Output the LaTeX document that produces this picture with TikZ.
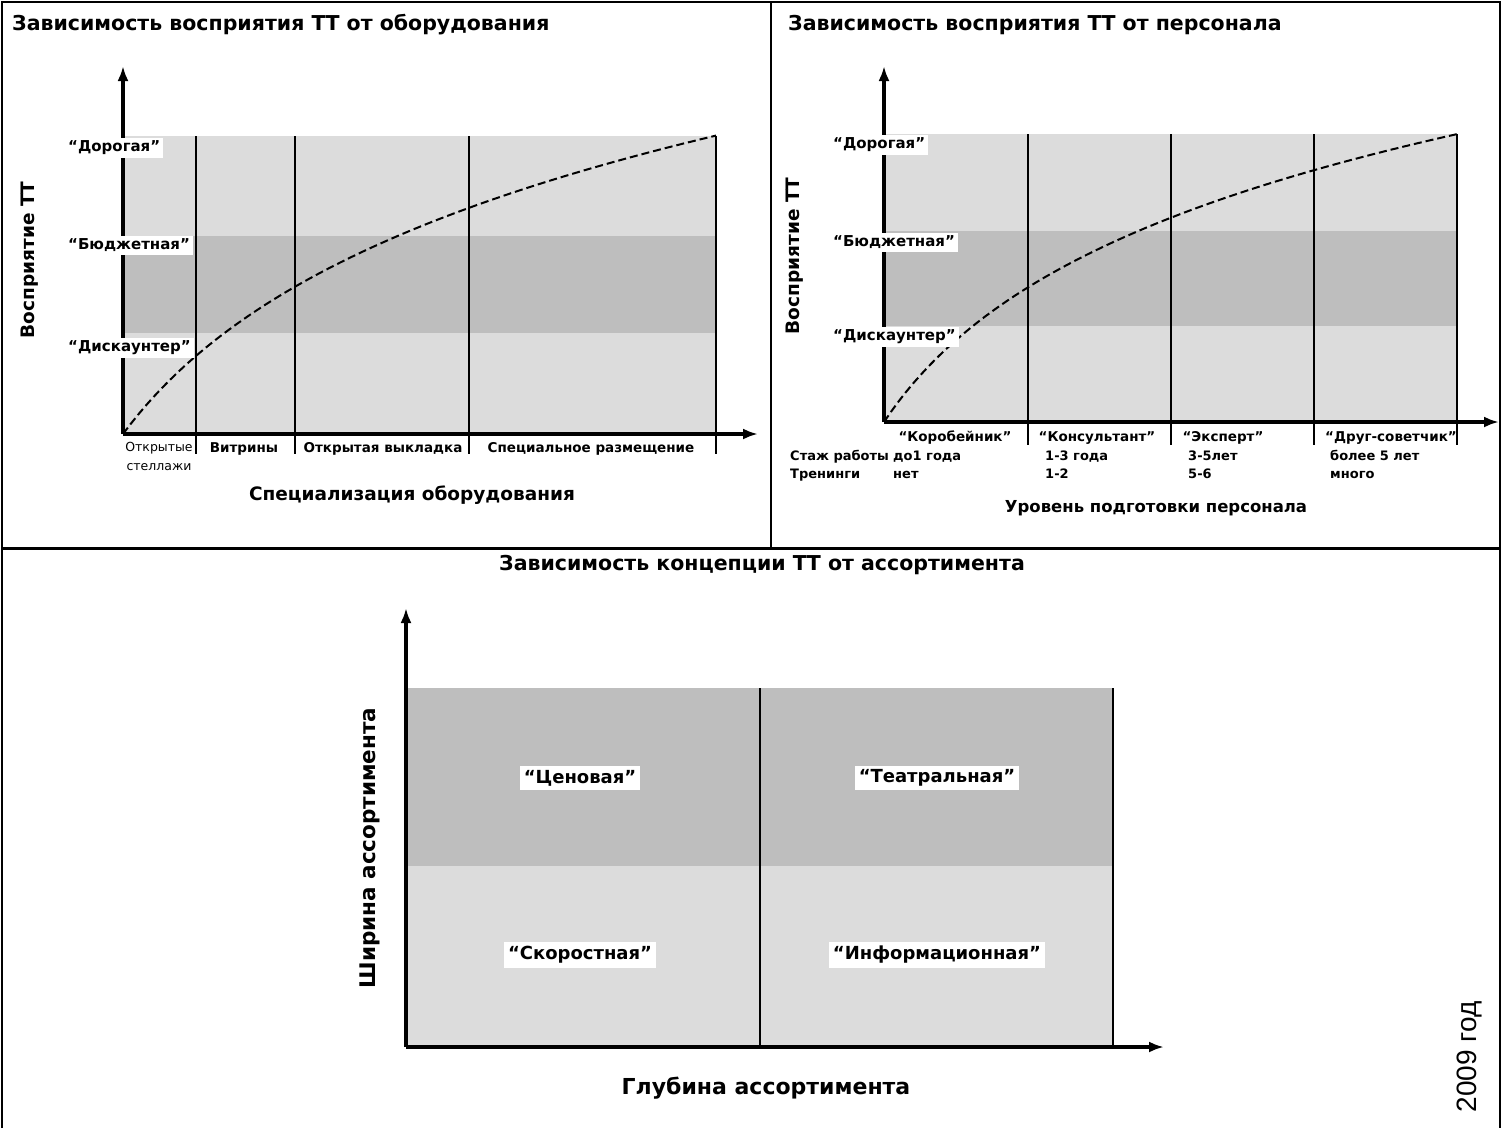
\documentclass[tikz,border=0pt]{standalone}
\usepackage{fontspec}
\setmainfont{DejaVu Sans}
\newfontfamily\yearfont{Liberation Sans}
\usetikzlibrary{arrows.meta,positioning,calc}
\definecolor{lightzone}{HTML}{DCDCDC}
\definecolor{darkzone}{HTML}{BEBEBE}

\begin{document}
\begin{tikzpicture}[x=1pt, y=-1pt,
  every node/.style={inner sep=0pt, font=\bfseries\fontsize{13.5}{16}\selectfont},
  heading/.style={anchor=west, font=\bfseries\fontsize{20.5}{24}\selectfont},
  axistitle/.style={font=\bfseries\fontsize{18.5}{22}\selectfont},
  level/.style={anchor=west, fill=white, inner sep=3pt, font=\bfseries\fontsize{15}{18}\selectfont},
  zone/.style={fill=white, inner sep=4pt, font=\bfseries\fontsize{18}{22}\selectfont},
  tick/.style={anchor=base},
  rowtext/.style={anchor=base west, font=\bfseries\fontsize{13}{16}\selectfont},
  frame/.style={line width=2pt},
  axis/.style={line width=3.5pt, -{Latex[length=15pt,width=11pt]}},
  divider/.style={line width=1.7pt},
  trend/.style={line width=2pt, dash pattern=on 8pt off 4pt}]
\useasboundingbox (0,0) rectangle (1502,1128);
\fill[white] (0,0) rectangle (1502,1128);

\draw[frame] (2,1128) -- (2,2) -- (1500,2) -- (1500,1128);
\draw[frame] (771,2) -- (771,548);
\draw[line width=3pt] (2,548) -- (1500,548);

\node[heading] (title1) at (12,25) {Зависимость восприятия ТТ от оборудования};
\node[heading] (title2) at (788,25) {Зависимость восприятия ТТ от персонала};
\node[heading, anchor=center] (title3) at (762,565) {Зависимость концепции ТТ от ассортимента};

\fill[lightzone] (123,136) rectangle (716,434);
\fill[darkzone] (123,236) rectangle (716,333);
\foreach \x in {196,295,469,716}
  \draw[divider] (\x,136) -- (\x,454);
\draw[trend] plot[domain=0:593, samples=80] ({123+\x}, {434-172*ln(1+\x/127)});
\coordinate (o1) at (123,434);
\coordinate (ytip1) at (123,66);
\coordinate (xtip1) at (758,434);
\draw[axis] (o1) -- (ytip1);
\draw[axis] (o1) -- (xtip1);
\node[level] (exp1) at (65,148) {“Дорогая”};
\node[level] (bud1) at (65,245) {“Бюджетная”};
\node[level] (disc1) at (65,348) {“Дискаунтер”};
\node[axistitle, rotate=90] (ylab1) at (30,260) {Восприятие ТТ};
\node[font=\mdseries\fontsize{12.5}{19}\selectfont, align=center] (shelf) at (159,456) {Открытые\\стеллажи};
\node[tick] (vitr) at (244,452) {Витрины};
\node[tick] (open) at (383,452) {Открытая выкладка};
\node[tick] (spec) at (591,452) {Специальное размещение};
\node[axistitle] (xlab1) at (412,495) {Специализация оборудования};

\fill[lightzone] (884,134) rectangle (1457,422);
\fill[darkzone] (884,231) rectangle (1457,326);
\foreach \x in {1028,1171,1314,1457}
  \draw[divider] (\x,134) -- (\x,445);
\draw[trend] plot[domain=0:573, samples=80] ({884+\x}, {422-151*ln(1+\x/100)});
\coordinate (o2) at (884,422);
\coordinate (ytip2) at (884,66);
\coordinate (xtip2) at (1499,422);
\draw[axis] (o2) -- (ytip2);
\draw[axis] (o2) -- (xtip2);
\node[level] (exp2) at (830,145) {“Дорогая”};
\node[level] (bud2) at (830,242) {“Бюджетная”};
\node[level] (disc2) at (830,337) {“Дискаунтер”};
\node[axistitle, rotate=90] (ylab2) at (795,256) {Восприятие ТТ};
\node[tick] (peddler) at (955,441) {“Коробейник”};
\node[tick] (consult) at (1097,441) {“Консультант”};
\node[tick] (expert) at (1223,441) {“Эксперт”};
\node[tick] (friend) at (1391,441) {“Друг-советчик”};
\node[rowtext] (stazh) at (790,460) {Стаж работы};
\node[rowtext] (training) at (790,478) {Тренинги};
\foreach \x/\a/\b in {893/до1 года/нет, 1045/1-3 года/1-2, 1188/3-5лет/5-6, 1330/более 5 лет/много} {
  \node[rowtext] (stazh\x) at (\x,460) {\a};
  \node[rowtext] (training\x) at (\x,478) {\b};
}
\node[axistitle, font=\bfseries\fontsize{16.5}{20}\selectfont] (xlab2) at (1156,508) {Уровень подготовки персонала};

\fill[darkzone] (406,688) rectangle (1113,866);
\fill[lightzone] (406,866) rectangle (1113,1047);
\foreach \x in {760,1113}
  \draw[divider] (\x,688) -- (\x,1047);
\coordinate (o3) at (406,1047);
\coordinate (ytip3) at (406,608);
\coordinate (xtip3) at (1164,1047);
\draw[axis] (o3) -- (ytip3);
\draw[axis] (o3) -- (xtip3);
\node[zone] (price) at (580,778) {“Ценовая”};
\node[zone] (theatre) at (937,778) {“Театральная”};
\node[zone] (speed) at (580,955) {“Скоростная”};
\node[zone] (info) at (937,955) {“Информационная”};
\node[axistitle, rotate=90, font=\bfseries\fontsize{21.5}{26}\selectfont] (ylab3) at (370,848) {Ширина ассортимента};
\node[axistitle, font=\bfseries\fontsize{22}{26}\selectfont] (xlab3) at (766,1088) {Глубина ассортимента};

\node[rotate=90, font=\yearfont\fontsize{28}{32}\selectfont] (year) at (1469,1057) {2009 год};
\end{tikzpicture}
\end{document}
